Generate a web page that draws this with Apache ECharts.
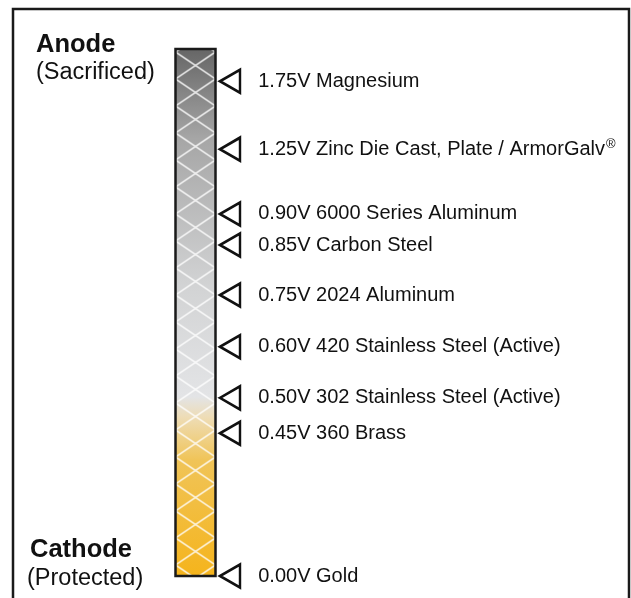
<!DOCTYPE html>
<html>
<head>
<meta charset="utf-8">
<script src="https://cdn.jsdelivr.net/npm/echarts@6/dist/echarts.min.js"></script>
<style>
  html, body { margin: 0; padding: 0; background: #fff; }
  #main { width: 631px; height: 598px; }
</style>
</head>
<body>
<div id="main"></div>
<script>
// galvanic series, most anodic first
var metals = ['Magnesium', 'Zinc Die Cast, Plate / ArmorGalv', '6000 Series Aluminum', 'Carbon Steel',
  '2024 Aluminum', '420 Stainless Steel (Active)', '302 Stainless Steel (Active)', '360 Brass', 'Gold'];
var voltages = [1.75, 1.25, 0.90, 0.85, 0.75, 0.60, 0.50, 0.45, 0.00];
// where each marker sits along the bar (0 = bottom, 100 = top)
var markerPos = [93.9, 81.0, 68.7, 62.8, 53.3, 43.5, 33.8, 27.1, 0];
var barRange = [0, 100];

var FONT = '"Liberation Sans", Arial, sans-serif';

// white crosshatch tile
function hatchTile(w, h, dy) {
  var c = document.createElement('canvas');
  c.width = w; c.height = h;
  var ctx = c.getContext('2d');
  ctx.strokeStyle = 'rgba(255,255,255,0.8)';
  ctx.lineWidth = 1.6;
  [-h, 0, h].forEach(function (o) {
    ctx.beginPath();
    ctx.moveTo(0, dy + o); ctx.lineTo(w, dy + o + h);
    ctx.moveTo(w, dy + o); ctx.lineTo(0, dy + o + h);
    ctx.stroke();
  });
  return c;
}
var tile = hatchTile(40, 27, 3);

var chart = echarts.init(document.getElementById('main'));

chart.setOption({
  animation: false,
  grid: { left: 175.5, width: 40, top: 49, bottom: 22 },
  xAxis: { type: 'category', data: ['bar'], show: false },
  yAxis: { type: 'value', min: 0, max: 100, show: false },
  graphic: [
    { type: 'rect', shape: { x: 13, y: 9, width: 616, height: 620 },
      style: { fill: 'none', stroke: '#1a1a1a', lineWidth: 2.5 }, z: -1 },
    { type: 'text', left: 36, top: 32,
      style: { text: 'Anode', font: 'bold 25.5px ' + FONT, fill: '#111' } },
    { type: 'text', left: 36, top: 61,
      style: { text: '(Sacrificed)', font: '23.5px ' + FONT, fill: '#111' } },
    { type: 'text', left: 30, top: 537,
      style: { text: 'Cathode', font: 'bold 25.5px ' + FONT, fill: '#111' } },
    { type: 'text', left: 27, top: 567,
      style: { text: '(Protected)', font: '23.5px ' + FONT, fill: '#111' } }
  ],
  series: [
    {
      type: 'custom',
      data: [[0, barRange[0], barRange[1]]],
      renderItem: function (params, api) {
        var bottom = api.coord([api.value(0), api.value(1)]);
        var top = api.coord([api.value(0), api.value(2)]);
        var w = api.size([1, 0])[0];
        var x = top[0] - w / 2, y = top[1], h = bottom[1] - top[1];
        return {
          type: 'group',
          x: x, y: y,
          children: [
            { type: 'rect', shape: { x: 0, y: 0, width: w, height: h },
              style: {
                fill: new echarts.graphic.LinearGradient(0, 0, 0, 1, [
                  { offset: 0, color: '#666666' },
                  { offset: 0.17, color: '#a6a6a6' },
                  { offset: 0.45, color: '#d2d3d4' },
                  { offset: 0.66, color: '#e3e4e6' },
                  { offset: 0.70, color: '#eedcb4' },
                  { offset: 0.78, color: '#f0c458' },
                  { offset: 1, color: '#f5b41c' }
                ])
              } },
            { type: 'rect', shape: { x: 0, y: 0, width: w, height: h },
              style: { fill: { image: tile, repeat: 'repeat' } } },
            { type: 'rect', shape: { x: 0, y: 0, width: w, height: h },
              style: { fill: 'none', stroke: '#1a1a1a', lineWidth: 2.5 } }
          ]
        };
      }
    },
    {
      type: 'scatter',
      clip: false,
      data: markerPos.map(function (p, i) {
        return { value: [0, p], name: metals[i] };
      }),
      symbol: 'path://M0,10L20,0L20,20Z',
      symbolKeepAspect: false,
      symbolSize: [20, 23],
      symbolOffset: [34.5, 0],
      itemStyle: { color: '#fff', borderColor: '#111', borderWidth: 2.6, opacity: 1 },
      label: {
        show: true,
        position: 'right',
        distance: 17,
        formatter: function (p) {
          var t = voltages[p.dataIndex].toFixed(2) + 'V ' + metals[p.dataIndex];
          return p.dataIndex === 1 ? '{a|' + t + '}{sup|®}' : '{a|' + t + '}';
        },
        rich: {
          a: { fontSize: 20, fontFamily: FONT, color: '#111' },
          sup: { fontSize: 13, fontFamily: FONT, color: '#111', padding: [0, 0, 9, 1] }
        }
      },
      z: 3
    }
  ]
});
</script>
</body>
</html>
